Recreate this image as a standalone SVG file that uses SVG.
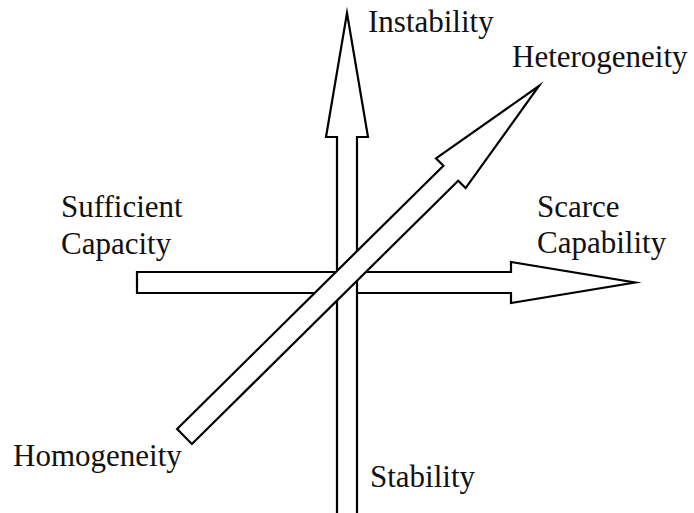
<svg xmlns="http://www.w3.org/2000/svg" width="694" height="513" viewBox="0 0 694 513">
<style>
.arrow{fill:#fff;stroke:#000;stroke-width:2.2;stroke-linejoin:miter;stroke-miterlimit:20}
.lbl{font-family:"Liberation Serif","Times New Roman",serif;font-size:31px;fill:#111}
</style>
<rect width="694" height="513" fill="#fff"/>
<g id="connectors">
<polygon id="capability-axis" class="arrow" points="137,272 511,272 511,262 635,282.5 511,303 511,293 137,293"/>
<polygon id="stability-axis" class="arrow" points="337,525 337,137 326,137 347,13 368,137 357,137 357,525"/>
<polygon id="heterogeneity-axis" class="arrow" points="177.1,429 443.4,165.7 436,158.3 539,86 465.6,188.1 458.2,180.7 191.9,444"/>
</g>
<g id="instability"><text class="lbl" x="368" y="32">Instability</text></g>
<g id="heterogeneity"><text class="lbl" x="512" y="67">Heterogeneity</text></g>
<g id="sufficient-capacity"><text class="lbl" x="61" y="217">Sufficient</text><text class="lbl" x="61" y="254">Capacity</text></g>
<g id="scarce-capability"><text class="lbl" x="537" y="217">Scarce</text><text class="lbl" x="537" y="253">Capability</text></g>
<g id="homogeneity"><text class="lbl" x="13" y="466">Homogeneity</text></g>
<g id="stability"><text class="lbl" x="370" y="487">Stability</text></g>
</svg>
